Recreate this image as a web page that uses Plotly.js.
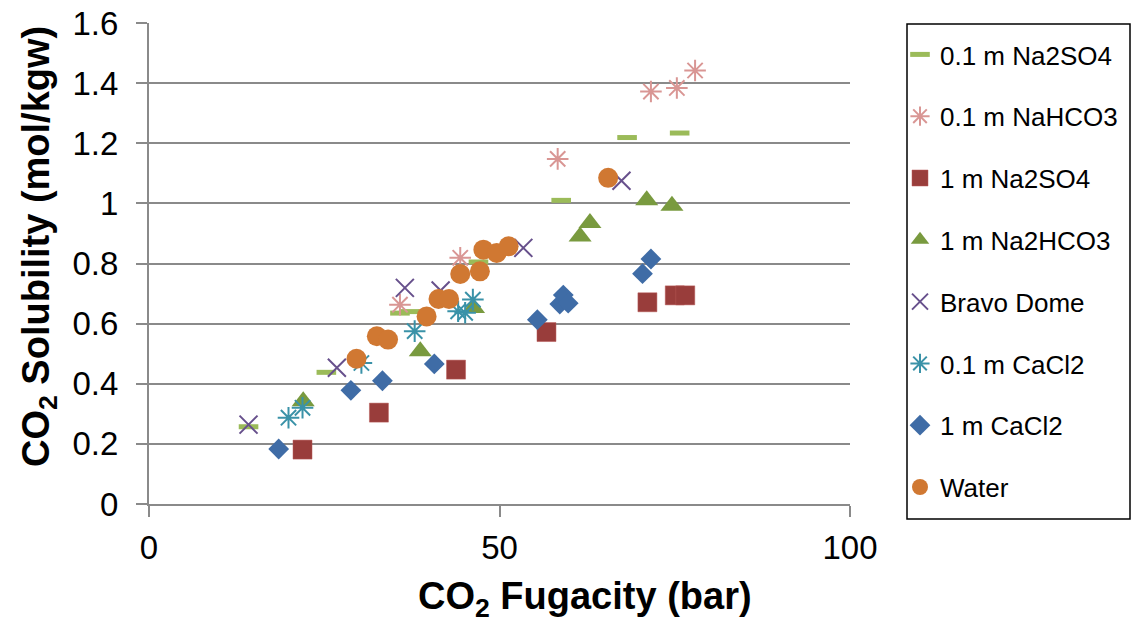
<!DOCTYPE html>
<html>
<head>
<meta charset="utf-8">
<script src="https://cdn.plot.ly/plotly-3.0.1.min.js"></script>
<style>html,body{margin:0;padding:0;background:#fff;}#chart{width:1135px;height:625px;}</style>
</head>
<body>
<div id="chart"></div>
<script>
// ---- data ----
const na2so4_01_x = [14.2, 25.3, 35.8, 37.2, 47.0, 58.8, 68.2, 75.7];
const na2so4_01_y = [0.257, 0.438, 0.635, 0.640, 0.805, 1.010, 1.219, 1.234];

const nahco3_01_x = [35.8, 44.4, 58.3, 71.6, 75.3, 77.9];
const nahco3_01_y = [0.663, 0.819, 1.148, 1.372, 1.384, 1.442];

const na2so4_1_x = [21.9, 32.8, 43.8, 56.7, 71.1, 75.0, 76.5];
const na2so4_1_y = [0.181, 0.304, 0.447, 0.572, 0.671, 0.694, 0.694];

const na2hco3_1_x = [22.0, 38.7, 46.3, 61.5, 62.9, 71.0, 74.6];
const na2hco3_1_y = [0.342, 0.508, 0.652, 0.890, 0.935, 1.010, 0.992];

const bravo_x = [14.2, 26.8, 36.5, 41.6, 53.4, 67.4];
const bravo_y = [0.264, 0.453, 0.719, 0.710, 0.852, 1.075];

const cacl2_01_x = [19.9, 21.9, 30.3, 37.9, 44.1, 45.1, 46.2];
const cacl2_01_y = [0.287, 0.320, 0.469, 0.575, 0.641, 0.636, 0.680];

const cacl2_1_x = [18.5, 28.8, 33.3, 40.7, 55.4, 58.6, 59.1, 59.8, 70.4, 71.6];
const cacl2_1_y = [0.183, 0.378, 0.410, 0.466, 0.613, 0.665, 0.695, 0.668, 0.766, 0.815];

const water_x = [29.6, 32.5, 34.1, 39.6, 41.3, 42.8, 44.4, 47.2, 47.7, 49.6, 51.3, 65.5];
const water_y = [0.483, 0.558, 0.547, 0.624, 0.682, 0.682, 0.765, 0.774, 0.846, 0.835, 0.857, 1.085];

const seriesNames = ["0.1 m Na2SO4", "0.1 m NaHCO3", "1 m Na2SO4", "1 m Na2HCO3",
                     "Bravo Dome", "0.1 m CaCl2", "1 m CaCl2", "Water"];

const xTickVals = [0, 50, 100];
const xTickText = ["0", "50", "100"];
const yTickVals = [0, 0.2, 0.4, 0.6, 0.8, 1.0, 1.2, 1.4, 1.6];
const yTickText = ["0", "0.2", "0.4", "0.6", "0.8", "1", "1.2", "1.4", "1.6"];

// ---- styling ----
const FONT = "Liberation Sans, Arial, Helvetica, sans-serif";
const GRID = "#8a8a8a";
const L = 149, PW = 701, Y0 = 504, PH = 481;
const px = v => (v - L) / PW;
const py = v => (Y0 - v) / PH;

function tr(i, x, y, marker) {
  return {
    type: "scatter", mode: "markers", name: seriesNames[i], x: x, y: y,
    marker: marker, legendgroup: "g" + i, hoverinfo: "x+y+name"
  };
}

const data = [
  tr(0, na2so4_01_x, na2so4_01_y, {symbol: "line-ew-open", size: 14, color: "#9BBB59", line: {color: "#9BBB59", width: 5}}),
  tr(1, nahco3_01_x, nahco3_01_y, {symbol: "asterisk-open", size: 18, color: "#D99694", line: {color: "#D99694", width: 2}}),
  tr(2, na2so4_1_x, na2so4_1_y, {symbol: "square", size: 19, color: "#993D3B", line: {color: "#B85A58", width: 0.5}}),
  tr(3, na2hco3_1_x, na2hco3_1_y, {symbol: "triangle-up", size: 20, color: "#799A3F", line: {width: 0}}),
  tr(4, bravo_x, bravo_y, {symbol: "x-thin-open", size: 18, color: "#67508C", line: {color: "#67508C", width: 2}}),
  tr(5, cacl2_01_x, cacl2_01_y, {symbol: "asterisk-open", size: 18, color: "#3A92A8", line: {color: "#3A92A8", width: 2}}),
  tr(6, cacl2_1_x, cacl2_1_y, {symbol: "diamond", size: 16, color: "#3F6CA6", line: {width: 0}}),
  tr(7, water_x, water_y, {symbol: "circle", size: 20, color: "#D07832", line: {width: 0}})
];

const layout = {
  width: 1135, height: 625,
  margin: {l: 149, r: 285, t: 23, b: 121},
  paper_bgcolor: "#ffffff", plot_bgcolor: "#ffffff",
  font: {family: FONT, color: "#000000"},
  showlegend: true,
  legend: {
    x: px(900), xanchor: "left", y: py(31), yanchor: "top",
    borderwidth: 0, bgcolor: "rgba(0,0,0,0)",
    font: {family: FONT, size: 26, color: "#000000"},
    traceorder: "grouped", tracegroupgap: 25,
    itemsizing: "trace"
  },
  shapes: [
    {type: "rect", xref: "paper", yref: "paper",
     x0: px(907), x1: px(1130), y0: py(519), y1: py(24),
     line: {color: "#000000", width: 1.5}, fillcolor: "rgba(0,0,0,0)", layer: "below"}
  ],
  xaxis: {
    range: [0, 100], tickvals: xTickVals, ticktext: xTickText,
    showgrid: false, zeroline: false,
    showline: true, linecolor: GRID, linewidth: 2,
    ticks: "outside", ticklen: 11, tickwidth: 2, tickcolor: GRID,
    tickfont: {family: FONT, size: 33, color: "#000000"},
    ticklabelstandoff: 2, fixedrange: true
  },
  yaxis: {
    range: [0, 1.6], tickvals: yTickVals, ticktext: yTickText,
    showgrid: true, gridcolor: GRID, gridwidth: 2, zeroline: false,
    showline: true, linecolor: GRID, linewidth: 2,
    ticks: "outside", ticklen: 11, tickwidth: 2, tickcolor: GRID,
    tickfont: {family: FONT, size: 33, color: "#000000"},
    ticklabelstandoff: 11, fixedrange: true
  },
  annotations: [
    {text: "<b>CO<sub>2</sub> Fugacity (bar)</b>", xref: "paper", yref: "paper",
     x: px(585), y: py(599), xanchor: "center", yanchor: "middle",
     showarrow: false, font: {family: FONT, size: 38, color: "#000000"}},
    {text: "<b>CO<sub>2</sub> Solubility (mol/kgw)</b>", xref: "paper", yref: "paper",
     x: px(39), y: py(247), xanchor: "center", yanchor: "middle",
     textangle: -90, showarrow: false, font: {family: FONT, size: 38, color: "#000000"}}
  ]
};

Plotly.newPlot("chart", data, layout, {displayModeBar: false, staticPlot: true});
</script>
</body>
</html>
